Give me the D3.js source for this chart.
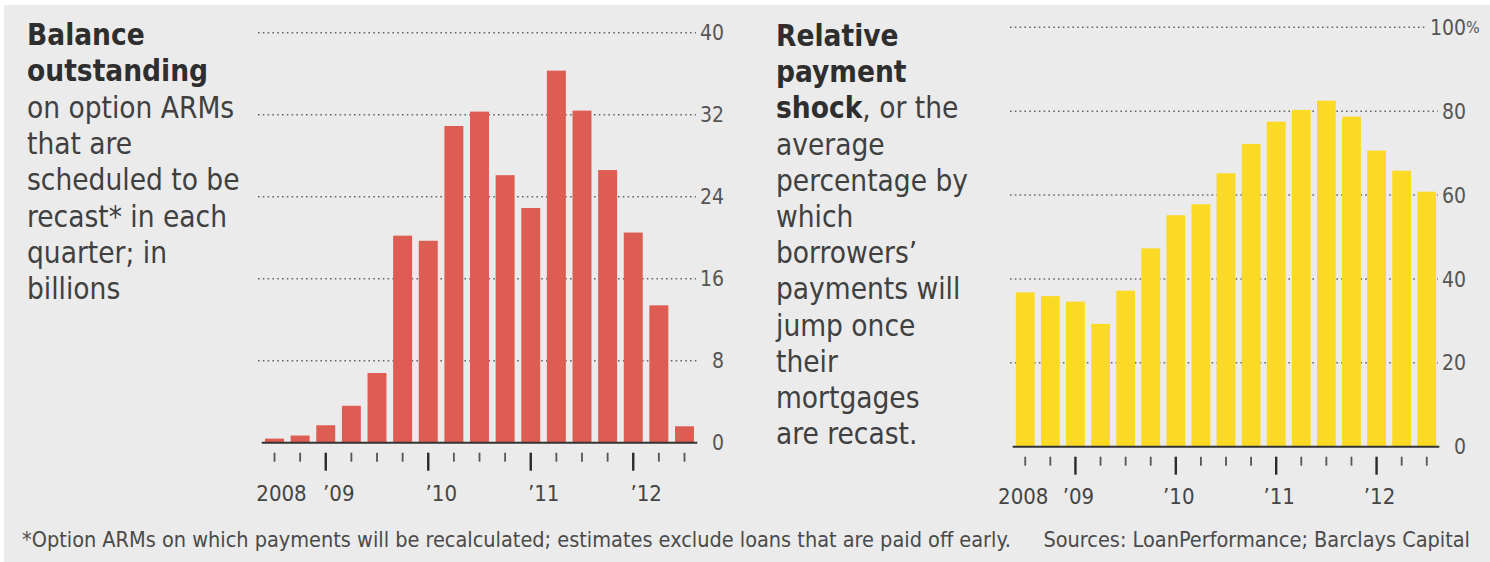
<!DOCTYPE html>
<html>
<head>
<meta charset="utf-8">
<script src="https://cdn.jsdelivr.net/npm/d3@7"></script>
<style>
  html, body { margin: 0; padding: 0; background: #ffffff; }
  svg { display: block; }
  text { font-family: "DejaVu Sans Condensed", "DejaVu Sans", sans-serif; font-stretch: condensed; }
</style>
</head>
<body>
<svg id="chart" width="1490" height="562"></svg>
<script>
// ---- data ----
const quarters = ["Q3 2008","Q4 2008","Q1 2009","Q2 2009","Q3 2009","Q4 2009",
  "Q1 2010","Q2 2010","Q3 2010","Q4 2010","Q1 2011","Q2 2011","Q3 2011","Q4 2011",
  "Q1 2012","Q2 2012","Q3 2012"];
const balance = [0.4, 0.7, 1.7, 3.6, 6.8, 20.2, 19.7, 30.9, 32.3, 26.1, 22.9, 36.3, 32.4, 26.6, 20.5, 13.4, 1.6];
const shock = [36.8, 35.9, 34.6, 29.3, 37.2, 47.3, 55.2, 57.8, 65.2, 72.2, 77.5, 80.3, 82.5, 78.7, 70.6, 65.8, 60.8];
const yearLabels = ["2008", "\u201909", "\u201910", "\u201911", "\u201912"];
const yearLabelQuarters = ["Q3 2008", "Q1 2009", "Q1 2010", "Q1 2011", "Q1 2012"];
const majorQuarters = ["Q1 2009", "Q1 2010", "Q1 2011", "Q1 2012"];
const balanceTicks = [0, 8, 16, 24, 32, 40];
const shockTicks = [0, 20, 40, 60, 80, 100];

const leftTitle = [
  [{t:"Balance", b:true}],
  [{t:"outstanding", b:true}],
  [{t:"on option ARMs"}],
  [{t:"that are"}],
  [{t:"scheduled to be"}],
  [{t:"recast* in each"}],
  [{t:"quarter; in"}],
  [{t:"billions"}]
];
const rightTitle = [
  [{t:"Relative", b:true}],
  [{t:"payment", b:true}],
  [{t:"shock", b:true}, {t:", or the"}],
  [{t:"average"}],
  [{t:"percentage by"}],
  [{t:"which"}],
  [{t:"borrowers\u2019"}],
  [{t:"payments will"}],
  [{t:"jump once"}],
  [{t:"their"}],
  [{t:"mortgages"}],
  [{t:"are recast."}]
];
const footnote = "*Option ARMs on which payments will be recalculated; estimates exclude loans that are paid off early.";
const sources = "Sources: LoanPerformance; Barclays Capital";

// ---- drawing ----
const svg = d3.select("#chart");
svg.append("rect").attr("x", 4).attr("y", 5).attr("width", 1486).attr("height", 557).attr("fill", "#ebebeb");

function titleBlock(lines, x, y0, step) {
  const g = svg.append("g");
  lines.forEach((parts, i) => {
    const t = g.append("text").attr("x", x).attr("y", y0 + i * step)
      .attr("font-size", 29.5).attr("fill", "#3a3a3a");
    parts.forEach(p => {
      t.append("tspan").text(p.t)
        .attr("font-weight", p.b ? "bold" : "normal")
        .attr("fill", p.b ? "#2e2e2e" : "#404040");
    });
  });
}
titleBlock(leftTitle, 27, 45, 36.3);
titleBlock(rightTitle, 776, 46, 36.2);

function barChart(cfg) {
  const x = d3.scaleBand().domain(quarters).range(cfg.xr).paddingInner(cfg.padIn).paddingOuter(cfg.padIn / 2);
  const y = d3.scaleLinear().domain(cfg.dom).range(cfg.yr);
  const g = svg.append("g");

  // value labels
  const labs = g.append("g").selectAll("text").data(cfg.ticks).join("text")
    .attr("x", cfg.labelX).attr("y", d => y(d)).attr("dy", "0.36em")
    .attr("text-anchor", "end").attr("font-size", 21).attr("fill", "#555")
    .text(d => d);
  if (cfg.pct) {
    g.append("text").attr("x", cfg.labelX).attr("y", y(cfg.dom[1])).attr("dy", "0.36em")
      .attr("font-size", 16).attr("fill", "#555").text("%");
  }
  // gridlines
  const gridEnd = {};
  labs.each(function(d) { gridEnd[d] = this.getBBox().x - 4; });
  g.append("g").selectAll("line").data(cfg.ticks.filter(d => d > 0)).join("line")
    .attr("x1", cfg.gridX0)
    .attr("x2", d => cfg.gridFixedEnd ? Math.min(cfg.gridFixedEnd, gridEnd[d]) : gridEnd[d])
    .attr("y1", d => y(d)).attr("y2", d => y(d))
    .attr("stroke", "#666").attr("stroke-width", 1.4).attr("stroke-dasharray", "1.6,3.2");

  // bars
  g.append("g").selectAll("rect").data(cfg.values).join("rect")
    .attr("x", (d, i) => x(quarters[i])).attr("width", x.bandwidth())
    .attr("y", d => y(d)).attr("height", d => y(0) - y(d))
    .attr("fill", cfg.color);

  // baseline
  g.append("line").attr("x1", cfg.xr[0]).attr("x2", cfg.xr[1])
    .attr("y1", y(0)).attr("y2", y(0)).attr("stroke", "#333").attr("stroke-width", 2);

  // ticks
  const base = y(0);
  g.append("g").selectAll("line").data(quarters).join("line")
    .attr("x1", q => x(q) + x.bandwidth() / 2).attr("x2", q => x(q) + x.bandwidth() / 2)
    .attr("y1", base + cfg.tickGap)
    .attr("y2", q => base + cfg.tickGap + (majorQuarters.includes(q) ? 18 : 9))
    .attr("stroke", q => majorQuarters.includes(q) ? "#2a2a2a" : "#555")
    .attr("stroke-width", q => majorQuarters.includes(q) ? 2.4 : 1.8);

  // year labels
  g.append("g").selectAll("text").data(yearLabels).join("text")
    .attr("x", (d, i) => x(yearLabelQuarters[i]) + x.bandwidth() / 2 + (i === 0 ? cfg.firstShift : cfg.labelShift))
    .attr("y", cfg.yearY).attr("text-anchor", "middle")
    .attr("font-size", 22).attr("fill", "#444").text(d => d);
}

barChart({
  values: balance, color: "#de5d52", dom: [0, 40], ticks: balanceTicks,
  xr: [261.7, 697.3], yr: [442.7, 32.7], padIn: 0.26,
  labelX: 724, gridX0: 258, gridFixedEnd: 697, tickGap: 10, yearY: 501,
  labelShift: 13, firstShift: 7, pct: false
});
barChart({
  values: shock, color: "#fbda26", dom: [0, 100], ticks: shockTicks,
  xr: [1012.7, 1439.3], yr: [446.7, 27.3], padIn: 0.25,
  labelX: 1466, gridX0: 1010, gridFixedEnd: 1438, tickGap: 10, yearY: 504,
  labelShift: 3, firstShift: -2, pct: true
});

svg.append("text").attr("x", 22).attr("y", 547).attr("font-size", 21.5).attr("fill", "#4a4a4a").text(footnote);
svg.append("text").attr("x", 1470).attr("y", 547).attr("text-anchor", "end").attr("font-size", 21.5).attr("fill", "#4a4a4a").text(sources);
</script>
</body>
</html>
